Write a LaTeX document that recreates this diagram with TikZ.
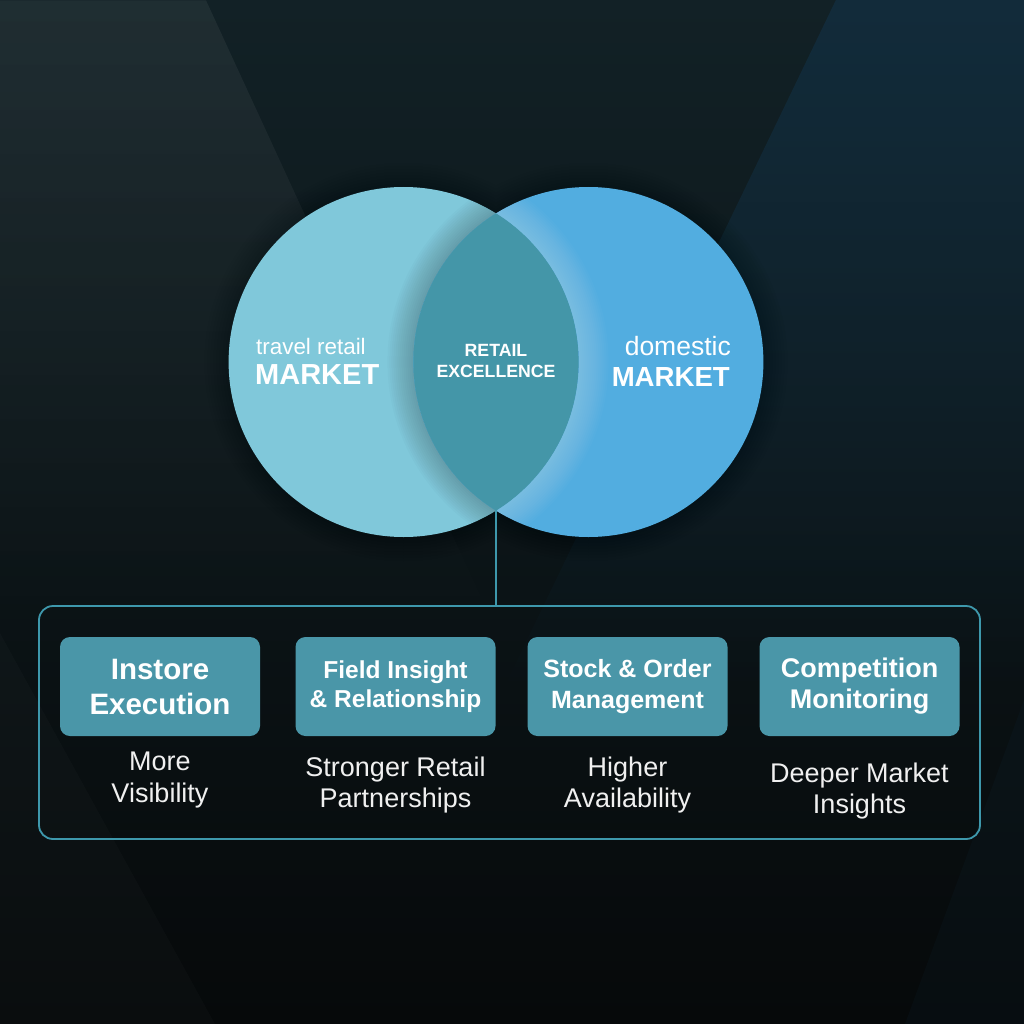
\documentclass[tikz,border=0pt]{standalone}
\usepackage{fontspec}
\setmainfont{Liberation Sans}
\usetikzlibrary{positioning,fadings}

\definecolor{bgtop}{RGB}{18,33,38}
\definecolor{bgmid}{RGB}{12,20,23}
\definecolor{bgbot}{RGB}{6,9,10}
\definecolor{bandblue}{RGB}{18,48,68}
\definecolor{travelc}{RGB}{128,200,218}
\definecolor{domestc}{RGB}{82,173,224}
\definecolor{lensc}{RGB}{68,150,168}
\definecolor{tealbox}{RGB}{74,150,168}
\definecolor{tealline}{RGB}{62,152,172}

\tikzset{
  market/.style={circle, fill=#1, minimum size=350pt, inner sep=0pt},
  pillar/.style={fill=tealbox, rounded corners=10pt, minimum width=200pt,
    minimum height=99pt, inner sep=0pt, align=center, text=white},
  gain/.style={align=center, text=white!94!black, font=\fontsize{27}{31.5}\selectfont},
  wordlbl/.style={text=white, inner sep=0pt, font=\fontsize{#1}{#1}\selectfont},
  marklbl/.style={text=white, inner sep=0pt, font=\bfseries\fontsize{#1}{#1}\selectfont}
}

\begin{document}
\begin{tikzpicture}[x=1pt, y=-1pt]
  \useasboundingbox (0,0) rectangle (1024,1024);
  % background
  \shade[top color=bgtop, middle color=bgmid, bottom color=bgbot] (0,0) rectangle (1024,1024);
  \fill[white, fill opacity=0.06, path fading=south] (0,0) -- (206,0) -- (510,660) -- (0,660) -- cycle;
  \fill[bandblue, fill opacity=0.7, path fading=south] (836,0) -- (1024,0) -- (1024,700) -- (498,700) -- cycle;
  \fill[white, fill opacity=0.018] (0,633) -- (215,1024) -- (0,1024) -- cycle;
  \fill[bandblue, fill opacity=0.12] (1024,700) -- (905,1024) -- (1024,1024) -- cycle;

  % soft shadow round the circles
  \foreach \k in {3,6,...,24}
    \fill[black, fill opacity=0.025] (403.6,362) circle (175+\k) (588.4,362) circle (175+\k);

  \node[market=travelc] (travel) at (403.6,362) {};
  \node[market=domestc] (domestic) at (588.4,362) {};

  % shade and glow beside the overlap
  \begin{scope}
    \clip (travel.center) circle (175);
    \foreach \k in {2,4,...,26}
      \fill[black, fill opacity=0.016, even odd rule] (domestic.center) circle (175) circle (175+\k);
  \end{scope}
  \begin{scope}
    \clip (domestic.center) circle (175);
    \foreach \k in {2,4,...,30}
      \fill[white, fill opacity=0.018, even odd rule] (travel.center) circle (175) circle (175+\k);
  \end{scope}
  \begin{scope}
    \clip (travel.center) circle (175);
    \fill[lensc] (domestic.center) circle (175);
  \end{scope}

  \node[wordlbl=22.4, anchor=base west] (trword) at (256,354) {travel retail};
  \node[marklbl=29, anchor=base west] (trmark) at (255,384) {MARKET};
  \node[wordlbl=26.5, anchor=base east] (dmword) at (731,355) {domestic};
  \node[marklbl=27.6, anchor=base east] (dmmark) at (730,386) {MARKET};
  \node[text=white, align=center, font=\bfseries\fontsize{17.7}{21}\selectfont] (excel) at (496,361) {RETAIL\\EXCELLENCE};

  % pillars
  \node[draw=tealline, line width=1.8pt, rounded corners=14pt, minimum width=941pt,
    minimum height=233pt] (panel) at (509.5,722.5) {};
  \coordinate (lensfoot) at (496,510);
  \draw[tealline, line width=1.8pt] (lensfoot) -- (lensfoot |- panel.north);

  \foreach \n/\x/\s/\l/\t/\cy/\c in {
    1/160/29.5/35/{Instore\\Execution}/780/{More\\Visibility},
    2/395.5/24.5/29/{Field Insight\\\& Relationship}/785/{Stronger Retail\\Partnerships},
    3/627.5/25/31/{Stock \& Order\\Management}/785/{Higher\\Availability},
    4/859.5/27/31/{Competition\\Monitoring}/791/{Deeper Market\\Insights}} {
    \node[pillar, font=\bfseries\fontsize{\s}{\l}\selectfont] (pillar\n) at (\x,686.5) {\t};
    \node[gain] (gain\n) at (\x,\cy) {\c};
  }
\end{tikzpicture}
\end{document}
